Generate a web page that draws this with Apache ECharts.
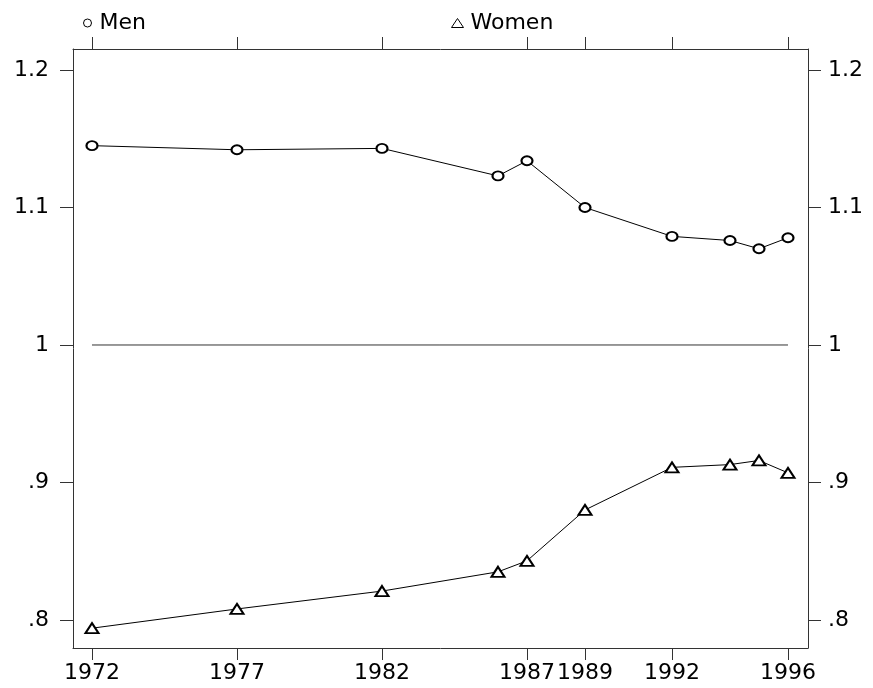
<!DOCTYPE html>
<html>
<head>
<meta charset="utf-8">
<script src="https://cdn.jsdelivr.net/npm/echarts@6/dist/echarts.min.js"></script>
<style>
  html, body { margin: 0; padding: 0; background: #fff; }
  #chart { width: 873px; height: 688px; }
</style>
</head>
<body>
<div id="chart"></div>
<script>
// survey years and ratio values
var years = [1972, 1977, 1982, 1986, 1987, 1989, 1992, 1994, 1995, 1996];
var men   = [1.145, 1.142, 1.143, 1.123, 1.134, 1.100, 1.079, 1.076, 1.070, 1.078];
var women = [0.794, 0.808, 0.821, 0.835, 0.843, 0.880, 0.911, 0.913, 0.916, 0.907];
var refLine = [[1972, 1], [1996, 1]];

var xTicks = [1972, 1977, 1982, 1987, 1989, 1992, 1996];
var yTicks = [0.8, 0.9, 1.0, 1.1, 1.2];

var font = 'DejaVu Sans';
var fontSize = 22;
var axisColor = '#333';

function pairs (xs, ys) {
  return xs.map(function (x, i) { return [x, ys[i]] })
}

function yFmt (v) {
  var s = String(Math.round(v * 10) / 10);
  return s.replace(/^0/, '');
}

var xBase = {
  type: 'value',
  min: 1971.345,
  max: 1996.69,
  splitLine: { show: false },
  axisLine: { show: true, lineStyle: { color: axisColor, width: 1 } },
  axisTick: { show: true, length: 12, customValues: xTicks, lineStyle: { color: axisColor } }
};

var yBase = {
  type: 'value',
  min: 0.7796,
  max: 1.2153,
  splitLine: { show: false },
  axisLine: { show: true, lineStyle: { color: axisColor, width: 1 } },
  axisTick: { show: true, length: 13, customValues: yTicks, lineStyle: { color: axisColor } }
};

var myChart = echarts.init(document.getElementById('chart'));

myChart.setOption({
  backgroundColor: '#fff',
  animation: false,
  grid: { left: 73, right: 65, top: 49, bottom: 40 },
  legend: [
    {
      data: ['Men'],
      left: 78, top: 7,
      itemWidth: 10, itemHeight: 8,
      icon: 'circle',
      itemStyle: { color: '#fff', borderColor: '#000', borderWidth: 1 },
      textStyle: { fontFamily: font, fontSize: fontSize, color: '#000', padding: [0, 0, 0, 2] }
    },
    {
      data: ['Women'],
      left: 446, top: 7,
      itemWidth: 12, itemHeight: 9,
      icon: 'triangle',
      itemStyle: { color: '#fff', borderColor: '#000', borderWidth: 1 },
      textStyle: { fontFamily: font, fontSize: fontSize, color: '#000', padding: [0, 0, 0, 2] }
    }
  ],
  xAxis: [
    Object.assign({}, xBase, {
      position: 'bottom',
      axisLabel: {
        customValues: xTicks,
        formatter: function (v) { return String(v) },
        fontFamily: font, fontSize: fontSize, color: '#000', margin: 14
      }
    }),
    Object.assign({}, xBase, {
      position: 'top',
      axisLabel: { show: false }
    })
  ],
  yAxis: [
    Object.assign({}, yBase, {
      position: 'left',
      axisLabel: {
        customValues: yTicks, formatter: yFmt,
        fontFamily: font, fontSize: fontSize, color: '#000', margin: 24
      }
    }),
    Object.assign({}, yBase, {
      position: 'right',
      axisLabel: {
        customValues: yTicks, formatter: yFmt,
        fontFamily: font, fontSize: fontSize, color: '#000', margin: 20
      }
    })
  ],
  series: [
    {
      name: 'Men',
      type: 'line',
      xAxisIndex: 0, yAxisIndex: 0,
      data: pairs(years, men),
      symbol: 'emptyCircle',
      symbolSize: [11, 9],
      lineStyle: { color: '#000', width: 1 },
      itemStyle: { color: '#000', borderWidth: 1 }
    },
    {
      name: 'Women',
      type: 'line',
      xAxisIndex: 0, yAxisIndex: 0,
      data: pairs(years, women),
      symbol: 'emptyTriangle',
      symbolSize: [13, 10],
      lineStyle: { color: '#000', width: 1 },
      itemStyle: { color: '#000', borderWidth: 1 }
    },
    {
      name: 'ref',
      type: 'line',
      xAxisIndex: 0, yAxisIndex: 0,
      data: refLine,
      symbol: 'none',
      silent: true,
      lineStyle: { color: '#333', width: 1 }
    }
  ]
});
</script>
</body>
</html>
